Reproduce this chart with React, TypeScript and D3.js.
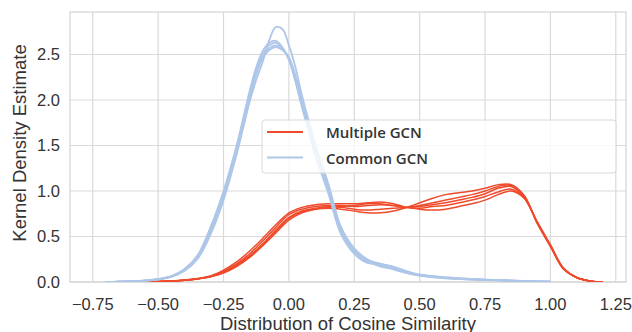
import { useEffect, useRef } from 'react'
import * as d3 from 'd3'

// x grid for the Common GCN curves
const blueX = [-0.70, -0.65, -0.60, -0.55, -0.50, -0.45, -0.40, -0.35, -0.30, -0.25, -0.20, -0.15, -0.125, -0.10, -0.075, -0.05, -0.025, 0.00, 0.025, 0.05, 0.075, 0.10, 0.15, 0.20, 0.25, 0.30, 0.35, 0.40, 0.45, 0.50, 0.60, 0.70, 0.80, 0.90, 1.00]
const commonRuns = [
  [0.0, 0.003, 0.007, 0.014, 0.028, 0.055, 0.12, 0.25, 0.52, 0.90, 1.40, 1.98, 2.22, 2.42, 2.66, 2.80, 2.78, 2.60, 2.36, 2.05, 1.78, 1.52, 1.08, 0.58, 0.35, 0.23, 0.17, 0.14, 0.10, 0.07, 0.042, 0.028, 0.018, 0.009, 0.003],
  [0.0, 0.003, 0.008, 0.015, 0.03, 0.06, 0.13, 0.27, 0.56, 0.95, 1.45, 2.05, 2.32, 2.50, 2.60, 2.63, 2.57, 2.45, 2.22, 1.95, 1.70, 1.45, 1.03, 0.55, 0.33, 0.22, 0.18, 0.15, 0.11, 0.075, 0.045, 0.03, 0.02, 0.01, 0.003],
  [0.0, 0.004, 0.009, 0.017, 0.033, 0.065, 0.14, 0.29, 0.60, 1.00, 1.50, 2.10, 2.36, 2.54, 2.63, 2.65, 2.58, 2.44, 2.20, 1.92, 1.66, 1.40, 0.98, 0.52, 0.31, 0.21, 0.20, 0.16, 0.10, 0.07, 0.04, 0.027, 0.018, 0.009, 0.002],
  [0.0, 0.003, 0.008, 0.016, 0.031, 0.062, 0.135, 0.28, 0.58, 0.97, 1.47, 2.03, 2.30, 2.47, 2.57, 2.60, 2.56, 2.46, 2.25, 1.98, 1.72, 1.48, 1.06, 0.57, 0.36, 0.24, 0.19, 0.14, 0.10, 0.08, 0.05, 0.032, 0.02, 0.01, 0.003],
  [0.0, 0.003, 0.008, 0.015, 0.03, 0.058, 0.125, 0.26, 0.54, 0.93, 1.43, 2.00, 2.28, 2.46, 2.55, 2.58, 2.55, 2.47, 2.27, 2.00, 1.74, 1.50, 1.08, 0.60, 0.37, 0.25, 0.20, 0.17, 0.12, 0.08, 0.05, 0.033, 0.022, 0.011, 0.003],
]

// x grid for the Multiple GCN curves
const redX = [-0.60, -0.55, -0.50, -0.45, -0.40, -0.35, -0.30, -0.25, -0.20, -0.15, -0.10, -0.05, 0.00, 0.05, 0.10, 0.15, 0.20, 0.25, 0.30, 0.35, 0.40, 0.45, 0.50, 0.55, 0.60, 0.65, 0.70, 0.75, 0.80, 0.85, 0.90, 0.95, 1.00, 1.05, 1.10, 1.15, 1.20]
const multipleRuns = [
  [0.0, 0.002, 0.005, 0.011, 0.021, 0.038, 0.066, 0.13, 0.22, 0.34, 0.48, 0.63, 0.76, 0.82, 0.85, 0.86, 0.86, 0.86, 0.87, 0.88, 0.86, 0.82, 0.80, 0.79, 0.80, 0.83, 0.86, 0.90, 0.96, 1.00, 0.92, 0.66, 0.41, 0.15, 0.05, 0.012, 0.0],
  [0.0, 0.002, 0.005, 0.010, 0.019, 0.034, 0.058, 0.10, 0.18, 0.28, 0.41, 0.56, 0.70, 0.77, 0.80, 0.81, 0.80, 0.78, 0.76, 0.76, 0.78, 0.82, 0.87, 0.92, 0.96, 0.98, 1.00, 1.03, 1.07, 1.07, 0.95, 0.64, 0.39, 0.14, 0.05, 0.012, 0.0],
  [0.0, 0.002, 0.005, 0.011, 0.020, 0.036, 0.062, 0.12, 0.20, 0.31, 0.45, 0.60, 0.74, 0.80, 0.83, 0.84, 0.84, 0.83, 0.84, 0.85, 0.84, 0.82, 0.84, 0.87, 0.90, 0.93, 0.96, 1.00, 1.05, 1.06, 0.94, 0.65, 0.40, 0.15, 0.05, 0.012, 0.0],
  [0.0, 0.002, 0.005, 0.010, 0.020, 0.035, 0.060, 0.11, 0.19, 0.29, 0.42, 0.57, 0.71, 0.78, 0.81, 0.83, 0.82, 0.80, 0.79, 0.80, 0.81, 0.82, 0.83, 0.85, 0.87, 0.90, 0.93, 0.97, 1.03, 1.05, 0.93, 0.65, 0.40, 0.15, 0.05, 0.012, 0.0],
  [0.0, 0.002, 0.005, 0.010, 0.019, 0.034, 0.058, 0.10, 0.17, 0.27, 0.40, 0.54, 0.68, 0.76, 0.80, 0.82, 0.83, 0.84, 0.86, 0.86, 0.84, 0.82, 0.81, 0.83, 0.84, 0.87, 0.90, 0.94, 0.99, 1.02, 0.92, 0.65, 0.40, 0.15, 0.05, 0.012, 0.0],
]

const xTicks = [-0.75, -0.5, -0.25, 0, 0.25, 0.5, 0.75, 1.0, 1.25]
const yTicks = [0, 0.5, 1.0, 1.5, 2.0, 2.5]
const legendLabels = ['Multiple GCN', 'Common GCN']
const colors = ['#ef4a2b', '#aec7e8']

export default function App() {
  const containerRef = useRef<HTMLDivElement>(null)

  useEffect(() => {
    if (!containerRef.current) return
    const container = containerRef.current
    container.innerHTML = ''

    const width = 632
    const height = 332
    const left = 70, right = 626, top = 12, bottom = 282
    const font = "'Liberation Sans', Arial, sans-serif"

    const svg = d3.select(container)
      .append('svg')
      .attr('width', width)
      .attr('height', height)
      .style('display', 'block')

    svg.append('rect').attr('width', width).attr('height', height).attr('fill', '#fff')

    const x = d3.scaleLinear().domain([-0.837, 1.289]).range([left, right])
    const y = d3.scaleLinear().domain([0, 2.967]).range([bottom, top])

    // Grid
    svg.append('g').selectAll('line').data(xTicks).join('line')
      .attr('x1', d => x(d)).attr('x2', d => x(d))
      .attr('y1', top).attr('y2', bottom)
      .attr('stroke', '#d9d9d9').attr('stroke-width', 1.2)
    svg.append('g').selectAll('line').data(yTicks).join('line')
      .attr('x1', left).attr('x2', right)
      .attr('y1', d => y(d)).attr('y2', d => y(d))
      .attr('stroke', '#d9d9d9').attr('stroke-width', 1.2)

    // Frame
    svg.append('rect')
      .attr('x', left).attr('y', top)
      .attr('width', right - left).attr('height', bottom - top)
      .attr('fill', 'none').attr('stroke', '#d4d4d4').attr('stroke-width', 1.2)

    // Tick labels
    svg.append('g').selectAll('text').data(xTicks).join('text')
      .attr('x', d => x(d)).attr('y', bottom + 28)
      .attr('text-anchor', 'middle')
      .style('font-family', font).style('font-size', '16.5px').style('fill', '#333')
      .text(d => d3.format('.2f')(d))
    svg.append('g').selectAll('text').data(yTicks).join('text')
      .attr('x', left - 10).attr('y', d => y(d)).attr('dy', '0.36em')
      .attr('text-anchor', 'end')
      .style('font-family', font).style('font-size', '16.5px').style('fill', '#333')
      .text(d => d3.format('.1f')(d))

    // Axis labels
    svg.append('text')
      .attr('x', (left + right) / 2).attr('y', 329.5)
      .attr('text-anchor', 'middle')
      .style('font-family', font).style('font-size', '18.5px').style('fill', '#333')
      .text('Distribution of Cosine Similarity')
    svg.append('text')
      .attr('transform', 'rotate(-90)')
      .attr('x', -143).attr('y', 25.5)
      .attr('text-anchor', 'middle')
      .style('font-family', font).style('font-size', '18.5px').style('fill', '#333')
      .text('Kernel Density Estimate')

    // Curves
    svg.append('defs').append('clipPath').attr('id', 'plot-clip')
      .append('rect').attr('x', left).attr('y', top).attr('width', right - left).attr('height', bottom - top)

    const line = d3.line<[number, number]>()
      .x(d => x(d[0]))
      .y(d => y(Math.max(0, d[1])))
      .curve(d3.curveCatmullRom.alpha(0.5))

    const curves = svg.append('g').attr('clip-path', 'url(#plot-clip)')
    multipleRuns.forEach(run => {
      curves.append('path')
        .attr('d', line(run.map((v, i) => [redX[i], v] as [number, number])))
        .attr('fill', 'none').attr('stroke', colors[0]).attr('stroke-width', 1.5)
    })
    commonRuns.forEach(run => {
      curves.append('path')
        .attr('d', line(run.map((v, i) => [blueX[i], v] as [number, number])))
        .attr('fill', 'none').attr('stroke', colors[1]).attr('stroke-width', 1.8)
    })

    // Legend
    const legendG = svg.append('g')
    legendG.append('rect')
      .attr('x', 262).attr('y', 120).attr('width', 354).attr('height', 53).attr('rx', 3)
      .attr('fill', '#fff').attr('fill-opacity', 0.8)
      .attr('stroke', '#d9d9d9').attr('stroke-width', 1)
    legendLabels.forEach((label, i) => {
      const ly = 132 + i * 25.5
      legendG.append('line')
        .attr('x1', 267).attr('x2', 303).attr('y1', ly).attr('y2', ly)
        .attr('stroke', colors[i]).attr('stroke-width', 2)
      legendG.append('text')
        .attr('x', 326).attr('y', ly + 1).attr('dy', '0.36em')
        .style('font-family', "'Open Sans', sans-serif").style('font-size', '15px')
        .style('font-weight', 600).style('fill', '#333')
        .text(label)
    })

    return () => { container.innerHTML = '' }
  }, [])

  return <div ref={containerRef} style={{ position: 'absolute', left: 0, top: 0, width: 632, height: 332 }} />
}
